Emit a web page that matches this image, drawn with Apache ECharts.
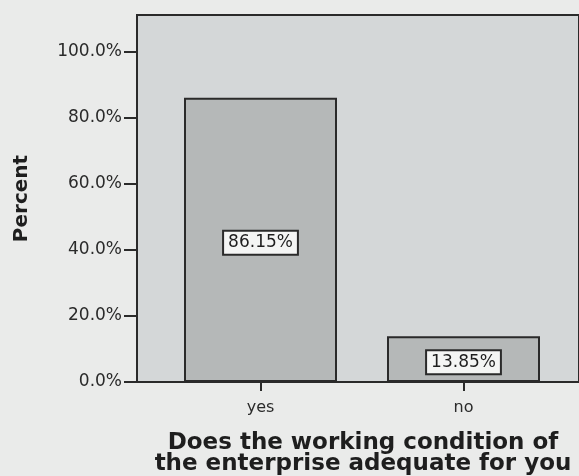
<!DOCTYPE html>
<html>
<head>
<meta charset="utf-8">
<script src="https://cdn.jsdelivr.net/npm/echarts@6/dist/echarts.min.js"></script>
<style>
html, body { margin: 0; padding: 0; background: #eaebea; }
#main { width: 579px; height: 476px; }
</style>
</head>
<body>
<div id="main"></div>
<script>
var categories = ['yes', 'no'];
var percents = [86.15, 13.85];
var yTicks = [0, 20, 40, 60, 80, 100];

var myChart = echarts.init(document.getElementById('main'));
var font = 'DejaVu Sans';

var option = {
    backgroundColor: '#eaebea',
    animation: false,
    title: {
        text: 'Does the working condition of\nthe enterprise adequate for you',
        left: 358,
        top: 428,
        textAlign: 'center',
        textStyle: {
            fontFamily: font,
            fontSize: 23,
            fontWeight: 'bold',
            color: '#1e1e1e',
            lineHeight: 21
        }
    },
    grid: [
        { left: 137, top: 15, right: -20, bottom: 94, show: true,
          backgroundColor: '#d4d7d8', borderColor: '#2a2a2a', borderWidth: 2 },
        { left: 159, top: 15, width: 406, bottom: 94 }
    ],
    xAxis: [
        { gridIndex: 0, type: 'value', show: false },
        {
            gridIndex: 1,
            type: 'category',
            data: categories,
            axisLine: { show: false },
            axisTick: { show: true, alignWithLabel: true, length: 9,
                        lineStyle: { color: '#2a2a2a', width: 2 } },
            axisLabel: { fontFamily: font, fontSize: 16, color: '#2a2a2a', margin: 18 }
        }
    ],
    yAxis: [
        {
            gridIndex: 0,
            type: 'value',
            min: 0,
            max: 111.2,
            name: 'Percent',
            nameLocation: 'middle',
            nameGap: 105,
            nameTextStyle: { fontFamily: font, fontSize: 20, fontWeight: 'bold', color: '#1e1e1e' },
            axisLine: { show: false },
            axisTick: { show: true, length: 13, customValues: yTicks,
                        lineStyle: { color: '#2a2a2a', width: 2 } },
            splitLine: { show: false },
            axisLabel: {
                fontFamily: font, fontSize: 17, color: '#2a2a2a', margin: 15,
                customValues: yTicks,
                formatter: function (v) { return v.toFixed(1) + '%'; }
            }
        },
        { gridIndex: 1, type: 'value', min: 0, max: 111.2, show: false }
    ],
    series: [{
        type: 'bar',
        xAxisIndex: 1,
        yAxisIndex: 1,
        data: percents,
        barWidth: 153,
        itemStyle: { color: '#b5b8b8', borderColor: '#2a2a2a', borderWidth: 2 },
        label: {
            show: true,
            position: 'inside',
            offset: [0, 3],
            formatter: function (p) { return p.value.toFixed(2) + '%'; },
            fontFamily: font,
            fontSize: 17,
            color: '#1e1e1e',
            backgroundColor: '#f4f5f4',
            borderColor: '#2a2a2a',
            borderWidth: 2,
            padding: [3, 4, 2, 4]
        }
    }]
};

myChart.setOption(option);
</script>
</body>
</html>
